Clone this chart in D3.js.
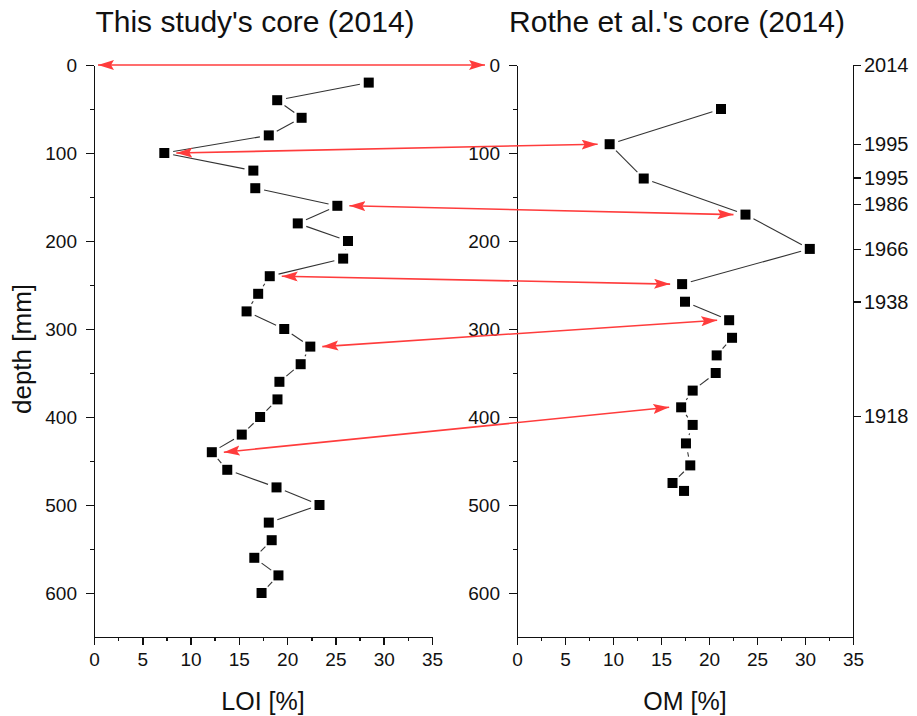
<!DOCTYPE html>
<html lang="en">
<head>
<meta charset="utf-8">
<title>LOI / OM depth profiles</title>
<script src="https://cdn.jsdelivr.net/npm/d3@7"></script>
<style>
  body { margin: 0; background: #fff; }
  svg { display: block; font-family: "Liberation Sans", Arial, sans-serif; }
  .axis path, .axis line { stroke: #111; stroke-width: 1.5; shape-rendering: crispEdges; }
  .axis text { font-size: 19px; fill: #111; font-family: "Liberation Sans", Arial, sans-serif; }
  .years text { font-size: 20px; }
</style>
</head>
<body>
<svg width="917" height="716"></svg>
<script>
// this study's core: depth [mm] and LOI [%]
var depthLoi = [20, 40, 60, 80, 100, 120, 140, 160, 180, 200, 220, 240, 260, 280, 300,
                320, 340, 360, 380, 400, 420, 440, 460, 480, 500, 520, 540, 560, 580, 600];
var loi = [28.45, 18.97, 21.5, 18.1, 7.28, 16.5, 16.7, 25.2, 21.1, 26.3, 25.8, 18.2, 17.0, 15.8, 19.7,
           22.4, 21.4, 19.2, 19.0, 17.2, 15.3, 12.2, 13.8, 18.9, 23.35, 18.1, 18.4, 16.6, 19.1, 17.35];

// Rothe et al.'s core: depth [mm] and OM [%]
var depthOm = [50, 90, 129, 170, 209, 249, 269, 290, 310, 330, 350, 370, 389, 409, 430, 455, 475, 484];
var om = [21.25, 9.65, 13.2, 23.8, 30.5, 17.2, 17.5, 22.1, 22.4, 20.8, 20.7, 18.3, 17.1, 18.3, 17.6, 18.05, 16.2, 17.4];

// dating on the right axis
var yearDepths = [0, 90, 128, 158, 209, 269, 399];
var yearLabels = ["2014", "1995", "1995", "1986", "1966", "1938", "1918"];

// correlation arrows (depth in this core -> depth in Rothe's core)
var linkLoiDepth = [0, 100, 160, 240, 320, 440];
var linkOmDepth = [0, 90, 170, 249, 290, 389];

var xTicks = [0, 5, 10, 15, 20, 25, 30, 35];
var yTicks = [0, 100, 200, 300, 400, 500, 600];

var svg = d3.select("svg");
var top0 = 65, bottom0 = 637;

var y = d3.scaleLinear().domain([0, 650]).range([top0, bottom0]);
var xL = d3.scaleLinear().domain([0, 35]).range([94, 432]);
var xR = d3.scaleLinear().domain([0, 35]).range([517, 853]);

var red = "#ff3c3c";
svg.append("defs").append("marker")
    .attr("id", "head")
    .attr("markerUnits", "userSpaceOnUse")
    .attr("markerWidth", 17).attr("markerHeight", 11)
    .attr("refX", 16).attr("refY", 5)
    .attr("orient", "auto-start-reverse")
  .append("path")
    .attr("d", "M0,0 L16,5 L0,10 L3,5 Z")
    .attr("fill", red);

function drawAxes(x) {
  var minorX = d3.range(2.5, 35, 5);
  var minorY = d3.range(50, 650, 100);

  svg.append("g").attr("class", "axis")
      .attr("transform", "translate(0," + bottom0 + ")")
      .call(d3.axisBottom(x).tickValues(xTicks).tickSize(8).tickSizeOuter(0).tickPadding(8).tickFormat(d3.format("d")));
  svg.append("g").attr("class", "axis")
      .attr("transform", "translate(0," + bottom0 + ")")
      .call(d3.axisBottom(x).tickValues(minorX).tickSize(4).tickSizeOuter(0).tickFormat(""));

  svg.append("g").attr("class", "axis")
      .attr("transform", "translate(" + x.range()[0] + ",0)")
      .call(d3.axisLeft(y).tickValues(yTicks).tickSize(8).tickSizeOuter(0).tickPadding(9));
  svg.append("g").attr("class", "axis")
      .attr("transform", "translate(" + x.range()[0] + ",0)")
      .call(d3.axisLeft(y).tickValues(minorY).tickSize(4).tickSizeOuter(0).tickFormat(""));
}

drawAxes(xL);
drawAxes(xR);

// years axis on the right
svg.append("g").attr("class", "axis years")
    .attr("transform", "translate(" + xR.range()[1] + ",0)")
    .call(d3.axisRight(y).tickValues(yearDepths).tickSize(8).tickSizeOuter(0).tickPadding(3)
      .tickFormat(function(d, i) { return yearLabels[i]; }));

// line with gaps round the symbols (like Origin)
function drawSeries(x, depths, vals) {
  var gap = 9;
  var pts = depths.map(function(d, i) { return [x(vals[i]), y(d)]; });
  var segs = [];
  for (var i = 0; i < pts.length - 1; i++) {
    var a = pts[i], b = pts[i + 1];
    var dx = b[0] - a[0], dy = b[1] - a[1], len = Math.sqrt(dx * dx + dy * dy);
    if (len <= 2 * gap) continue;
    var ux = dx / len, uy = dy / len;
    segs.push([a[0] + ux * gap, a[1] + uy * gap, b[0] - ux * gap, b[1] - uy * gap]);
  }
  svg.append("g").selectAll("line").data(segs).enter().append("line")
      .attr("x1", function(d) { return d[0]; }).attr("y1", function(d) { return d[1]; })
      .attr("x2", function(d) { return d[2]; }).attr("y2", function(d) { return d[3]; })
      .attr("stroke", "#333").attr("stroke-width", 1.1);
  svg.append("g").selectAll("rect").data(pts).enter().append("rect")
      .attr("x", function(d) { return d[0] - 5; })
      .attr("y", function(d) { return d[1] - 5; })
      .attr("width", 10).attr("height", 10)
      .attr("fill", "#000");
}

drawSeries(xL, depthLoi, loi);
drawSeries(xR, depthOm, om);

// correlation arrows
linkLoiDepth.forEach(function(dl, i) {
  var dr = linkOmDepth[i];
  var x1, x2;
  if (i === 0) {
    x1 = xL(0) + 4;
    x2 = xR(0) - 32;
  } else {
    x1 = xL(loi[depthLoi.indexOf(dl)]) + 12;
    x2 = xR(om[depthOm.indexOf(dr)]) - 12;
  }
  svg.append("line")
      .attr("x1", x1).attr("y1", y(dl))
      .attr("x2", x2).attr("y2", y(dr))
      .attr("stroke", red).attr("stroke-width", 1.6)
      .attr("marker-start", "url(#head)")
      .attr("marker-end", "url(#head)");
});

// titles
svg.append("text").attr("x", 255).attr("y", 32).attr("text-anchor", "middle")
    .style("font-size", "30px").attr("fill", "#111").text("This study's core (2014)");
svg.append("text").attr("x", 677).attr("y", 32).attr("text-anchor", "middle")
    .style("font-size", "30px").attr("fill", "#111").text("Rothe et al.'s core (2014)");

svg.append("text").attr("x", (xL.range()[0] + xL.range()[1]) / 2).attr("y", 710)
    .attr("text-anchor", "middle").style("font-size", "25px").attr("fill", "#111").text("LOI [%]");
svg.append("text").attr("x", (xR.range()[0] + xR.range()[1]) / 2).attr("y", 710)
    .attr("text-anchor", "middle").style("font-size", "25px").attr("fill", "#111").text("OM [%]");

svg.append("text")
    .attr("transform", "translate(31," + 349 + ") rotate(-90)")
    .attr("text-anchor", "middle").style("font-size", "26px").attr("fill", "#111").text("depth [mm]");
</script>
</body>
</html>
